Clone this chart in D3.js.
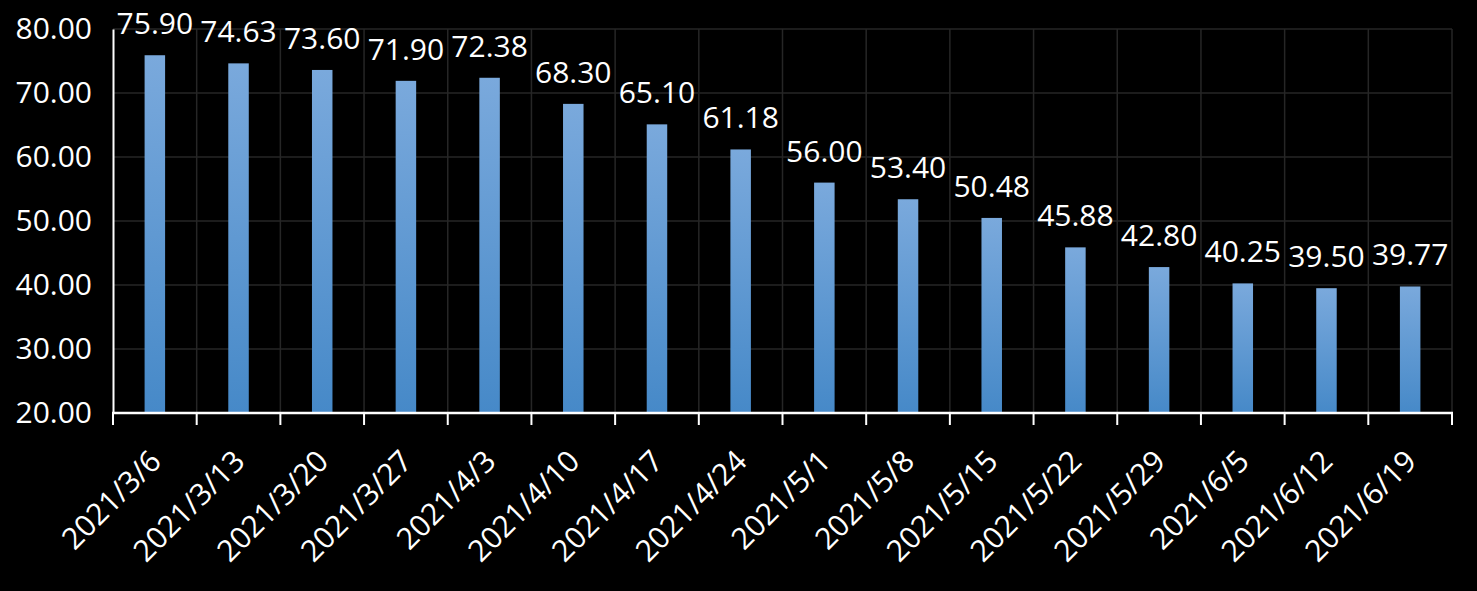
<!DOCTYPE html>
<html>
<head>
<meta charset="utf-8">
<script src="https://cdn.jsdelivr.net/npm/d3@7"></script>
<style>
  html, body { margin: 0; padding: 0; background: #000; }
  svg { display: block; }
  text { font-family: "Open Sans", "Noto Sans", sans-serif; fill: #fff; }
</style>
</head>
<body>
<svg id="chart" width="1477" height="591"></svg>
<script>
const categories = ["2021/3/6","2021/3/13","2021/3/20","2021/3/27","2021/4/3","2021/4/10","2021/4/17","2021/4/24","2021/5/1","2021/5/8","2021/5/15","2021/5/22","2021/5/29","2021/6/5","2021/6/12","2021/6/19"];
const values = [75.90, 74.63, 73.60, 71.90, 72.38, 68.30, 65.10, 61.18, 56.00, 53.40, 50.48, 45.88, 42.80, 40.25, 39.50, 39.77];
const yTicks = [20, 30, 40, 50, 60, 70, 80];

const W = 1477, H = 591;
const margin = { left: 113, right: 25, top: 29, bottom: 178 };
const svg = d3.select("#chart");

const x = d3.scaleBand().domain(categories).range([margin.left, W - margin.right]).paddingInner(0).paddingOuter(0);
const y = d3.scaleLinear().domain([20, 80]).range([H - margin.bottom, margin.top]);

const defs = svg.append("defs");
const grad = defs.append("linearGradient").attr("id", "barGrad").attr("x1", 0).attr("y1", 0).attr("x2", 0).attr("y2", 1);
grad.append("stop").attr("offset", "0%").attr("stop-color", "#7aa9dc");
grad.append("stop").attr("offset", "100%").attr("stop-color", "#4689c8");

// horizontal gridlines
svg.append("g").selectAll("line").data(yTicks.filter(d => d > 20)).join("line")
  .attr("x1", margin.left).attr("x2", W - margin.right)
  .attr("y1", d => y(d)).attr("y2", d => y(d))
  .attr("stroke", "#262626").attr("stroke-width", 1.5);

// vertical gridlines at band boundaries
const bounds = categories.map(c => x(c)).concat([x(categories[categories.length - 1]) + x.bandwidth()]).slice(1);
svg.append("g").selectAll("line").data(bounds).join("line")
  .attr("x1", d => d).attr("x2", d => d)
  .attr("y1", y(80)).attr("y2", y(20))
  .attr("stroke", "#262626").attr("stroke-width", 1.5);

// bars
const barW = 20.5;
svg.append("g").selectAll("rect").data(values).join("rect")
  .attr("x", (d, i) => x(categories[i]) + x.bandwidth() / 2 - barW / 2)
  .attr("width", barW)
  .attr("y", d => y(d))
  .attr("height", d => y(20) - y(d))
  .attr("fill", "url(#barGrad)");

// data labels
svg.append("g").selectAll("text").data(values).join("text")
  .attr("x", (d, i) => x(categories[i]) + x.bandwidth() / 2)
  .attr("y", d => y(d) - 21)
  .attr("text-anchor", "middle")
  .attr("font-size", 30)
  .text(d => d.toFixed(2));

// y axis
const yAxis = svg.append("g").attr("transform", `translate(${margin.left},0)`)
  .call(d3.axisLeft(y).tickValues(yTicks).tickFormat(d => d.toFixed(2)).tickSize(0).tickPadding(21));
yAxis.select(".domain").attr("stroke", "#fff").attr("stroke-width", 2);
yAxis.selectAll("text").attr("font-size", 30).attr("fill", "#fff").attr("font-family", "Open Sans, Noto Sans, sans-serif");

// x axis
const xAxisG = svg.append("g");
xAxisG.append("line")
  .attr("x1", margin.left - 1).attr("x2", W - margin.right + 1)
  .attr("y1", y(20)).attr("y2", y(20))
  .attr("stroke", "#fff").attr("stroke-width", 2.5);
const tickPos = [x(categories[0])].concat(bounds);
xAxisG.selectAll("line.tick").data(tickPos).join("line").attr("class", "tick")
  .attr("x1", d => d).attr("x2", d => d)
  .attr("y1", y(20)).attr("y2", y(20) + 12)
  .attr("stroke", "#fff").attr("stroke-width", 2);
xAxisG.selectAll("text").data(categories).join("text")
  .attr("transform", d => `translate(${x(d) + x.bandwidth() / 2 + 8},${y(20) + 50}) rotate(-45)`)
  .attr("text-anchor", "end")
  .attr("font-size", 30)
  .text(d => d);
</script>
</body>
</html>
